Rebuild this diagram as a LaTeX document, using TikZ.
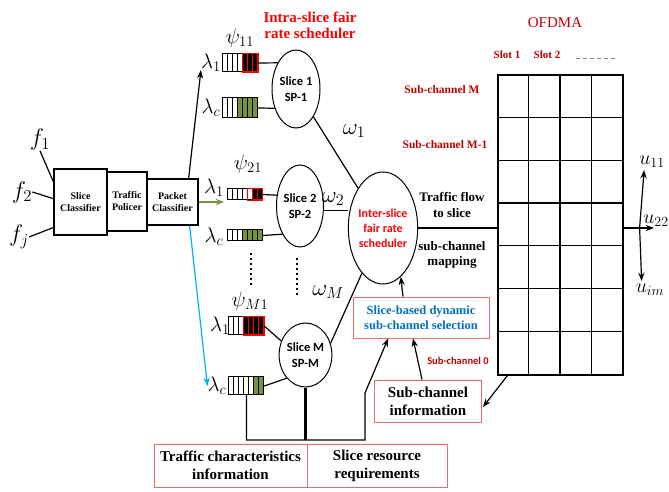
\RequirePackage{fix-cm}
\documentclass[tikz,border=0pt]{standalone}
\usepackage{fontspec}
\setmainfont{Liberation Serif}
\setsansfont{Carlito}
\usetikzlibrary{arrows.meta, positioning, shapes.geometric, calc}
\definecolor{SLRED}{HTML}{FF0000}
\definecolor{SLDARK}{HTML}{C00000}
\definecolor{SLPINK}{HTML}{E07070}
\definecolor{SLBLUE}{HTML}{0070C0}
\definecolor{SLCYAN}{HTML}{00B0F0}
\definecolor{SLGREEN}{HTML}{77933C}

% queue of 7 cells: name, centre, height, white cells, style of the others
\newcommand{\cellqueue}[5]{%
  \node[qbox, minimum height=#3pt] (#1) at (#2) {};
  \foreach \k in {0,...,6}{
    \ifnum\k<#4\relax
      \draw[wcell] ($(#1.north west)+(5*\k,0)$) rectangle ++(5,#3);
    \else
      \draw[#5] ($(#1.north west)+(5*\k,0)$) rectangle ++(5,#3);
    \fi
  }
}

\begin{document}
\begin{tikzpicture}[x=1pt, y=-1pt,
    blk/.style={draw=black, line width=1.2pt, fill=white, inner sep=0pt, align=center,
                font=\bfseries\fontsize{10}{12}\selectfont},
    slicenode/.style={draw, ellipse, line width=1pt, inner sep=0pt, align=center,
                font=\sffamily\bfseries\fontsize{12.5}{16}\selectfont},
    pinkbox/.style={draw=SLPINK, line width=0.9pt, inner sep=0pt, align=center,
                font=\bfseries\fontsize{15}{18}\selectfont},
    lab/.style={inner sep=0pt, font=\fontsize{21}{21}\selectfont},
    wcell/.style={draw=black, line width=0.7pt, fill=white},
    redcell/.style={draw=SLRED, line width=0.7pt, fill=black},
    grncell/.style={draw=black, line width=0.7pt, fill=SLGREEN},
    qbox/.style={inner sep=0pt, minimum width=35pt},
    arr/.style={-{Stealth}, line width=1.2pt},
    ln/.style={line width=1.2pt},
    gridline/.style={line width=1.2pt},
    vdots/.style={line width=2pt, dash pattern=on 2pt off 3pt},
    redlab/.style={text=SLDARK, font=\bfseries\fontsize{11.5}{14}\selectfont}
  ]
  \useasboundingbox (0,0) rectangle (669,492);

  % classifier chain
  \node[blk, minimum width=53pt, minimum height=66pt] (sc) at (80.5,202) {Slice\\Classifier};
  \node[blk, minimum width=40pt, minimum height=59pt] (tp) at (127,201.5) {Traffic\\Policer};
  \node[blk, minimum width=51pt, minimum height=46pt] (pc) at (172.5,202) {Packet\\Classifier};

  \node[lab, font=\fontsize{24}{24}\selectfont] (f1) at (40,140) {$f_1$};
  \node[lab, font=\fontsize{24}{24}\selectfont] (f2) at (22,192) {$f_2$};
  \node[lab, font=\fontsize{24}{24}\selectfont] (fj) at (19,237) {$f_j$};
  \draw[ln] (f1.south) -- ($(sc.north west)!0.2!(sc.south west)$);
  \draw[ln] (f2.east) -- ($(sc.north west)!0.45!(sc.south west)$);
  \draw[ln] (fj.east) -- ($(sc.north west)!0.88!(sc.south west)$);

  % intra-slice schedulers
  \node[text=SLRED, align=center, font=\bfseries\fontsize{15}{16}\selectfont] (intra) at (310,25)
       {Intra-slice fair\\rate scheduler};
  \node[slicenode, minimum width=48pt, minimum height=78pt] (s1) at (296,89) {Slice 1\\SP-1};
  \node[slicenode, minimum width=47pt, minimum height=82pt] (s2) at (300,206) {Slice 2\\SP-2};
  \node[slicenode, minimum width=47pt, minimum height=64pt] (sM) at (305.5,355) {Slice M\\SP-M};

  \cellqueue{q11}{240.5,63}{18}{4}{redcell}
  \draw[draw=SLRED, line width=0.8pt] ($(q11.north west)+(20,0)$) rectangle (q11.south east);
  \cellqueue{q1c}{240.5,108}{20}{3}{grncell}
  \cellqueue{q21}{245,194.5}{11}{5}{redcell}
  \draw[draw=SLRED, line width=0.8pt] ($(q21.north west)+(20,0)$) rectangle (q21.south east);
  \cellqueue{q2c}{245,235.5}{11}{3}{grncell}
  \cellqueue{qM1}{246.5,326}{18}{3}{redcell}
  \draw[draw=SLRED, line width=0.8pt] ($(qM1.north west)+(15,0)$) rectangle (qM1.south east);
  \cellqueue{qMc}{246.5,386}{18}{5}{grncell}

  \node[lab] (lam11) at (211,63) {$\lambda_1$};
  \node[lab] (lam1c) at (211,108) {$\lambda_c$};
  \node[lab] (lam21) at (214,188) {$\lambda_1$};
  \node[lab] (lam2c) at (214,237) {$\lambda_c$};
  \node[lab] (lamM1) at (220,326) {$\lambda_1$};
  \node[lab] (lamMc) at (217,386) {$\lambda_c$};
  \node[lab] (psi11) at (240,38) {$\psi_{11}$};
  \node[lab] (psi21) at (248,164) {$\psi_{21}$};
  \node[lab] (psiM1) at (250,301) {$\psi_{M1}$};

  \draw[ln] (q11.east) -- (s1.125);
  \draw[ln] (q1c.east) -- (s1.222);
  \draw[ln] (q21.east) -- (s2.155);
  \draw[ln] (q2c.east) -- (s2.238);
  \draw[ln] (qM1.east) -- (sM.150);
  \draw[ln] (qMc.east) -- (sM.231);

  \draw[vdots] ($(q2c.south)+(6,12)$) -- ++(0,32);
  \draw[vdots] ($(s2.south)+(-3,10)$) -- ++(0,38);

  % packet classifier outputs
  \draw[arr] ($(pc.north east)+(-10,0)$) -- ($(lam11.south west)+(0,-2)$);
  \draw[arr, SLGREEN] (pc.east) -- (pc.east -| lam21.east);
  \draw[arr, SLCYAN] ($(pc.south east)+(-9,0)$) -- (lamMc.west);

  % inter-slice scheduler
  \node[slicenode, text=SLRED, font=\sffamily\bfseries\fontsize{12}{15}\selectfont,
        minimum width=56pt, minimum height=112pt] (inter) at (383,228)
       {Inter-slice\\fair rate\\scheduler};
  \draw[ln] (s1) -- (inter);
  \draw[ln] (s2.-10) -- (s2.-10 -| inter.west);
  \draw[ln] (sM.25) -- (inter.245);
  \node[lab, font=\fontsize{23}{23}\selectfont] (om1) at (354,131) {$\omega_1$};
  \node[lab, font=\fontsize{23}{23}\selectfont] (om2) at (333,199) {$\omega_2$};
  \node[lab, font=\fontsize{23}{23}\selectfont] (omM) at (328,292) {$\omega_M$};

  % OFDMA grid
  \node[draw, line width=1.2pt, inner sep=0pt, minimum width=125pt, minimum height=300pt] (grid) at (560.5,225) {};
  \foreach \c in {1,2,3}
    \draw[gridline] ($(grid.north west)+(31.25*\c,0)$) -- ($(grid.south west)+(31.25*\c,0)$);
  \foreach \r in {1,...,6}
    \draw[gridline] ($(grid.north west)+(0,{42.857*\r})$) -- ($(grid.north east)+(0,{42.857*\r})$);
  \node[text=SLDARK, font=\fontsize{15}{15}\selectfont] (ofdma) at (555,23) {OFDMA};
  \node[redlab, font=\bfseries\fontsize{11}{13}\selectfont] (slot1) at (507,55) {Slot 1};
  \node[redlab, font=\bfseries\fontsize{11}{13}\selectfont] (slot2) at (547,55) {Slot 2};
  \draw[gray, line width=0.8pt, dash pattern=on 4pt off 3pt] ($(slot2.east)+(12,3)$) -- ++(42,0);
  \node[redlab] (scM) at (442,90) {Sub-channel M};
  \node[redlab] (scM1) at (445,145) {Sub-channel M-1};

  \node[align=center, font=\bfseries\fontsize{13}{15.5}\selectfont] (flow) at (452,205) {Traffic flow\\to slice};
  \node[align=center, font=\bfseries\fontsize{13}{15.5}\selectfont] (map) at (452,255) {sub-channel\\mapping};
  \draw[ln] (inter.east) -- (inter.east -| grid.west);

  % users
  \node[lab, font=\fontsize{20}{20}\selectfont] (u11) at (652,162) {$u_{11}$};
  \node[lab, font=\fontsize{20}{20}\selectfont] (u22) at (656,221) {$u_{22}$};
  \node[lab, font=\fontsize{20}{20}\selectfont] (uim) at (650,290) {$u_{im}$};
  \coordinate (fork) at ($(grid.east |- inter.east)+(16,0)$);
  \draw[arr] (grid.east |- inter.east) -- ($(u22.south |- inter.east)+(-2,0)$);
  \draw[arr] (fork) -- ($(u11.south west)+(5,2)$);
  \draw[arr] (fork) -- ($(uim.north west)+(6,-3)$);

  % channel selection and information
  \node[pinkbox, text=SLBLUE, minimum width=136pt, minimum height=41pt,
        font=\bfseries\fontsize{12.5}{15}\selectfont] (sel) at (421,317.5)
       {Slice-based dynamic\\sub-channel selection};
  \node[pinkbox, minimum width=107pt, minimum height=42pt] (info) at (428,401) {Sub-channel\\information};
  \node[text=SLDARK, font=\sffamily\bfseries\fontsize{10.5}{12}\selectfont] (sch0) at (458,361) {Sub-channel 0};
  \draw[arr] ($(sel.north)+(-18,0)$) -- (inter.-70);
  \draw[arr] ($(info.north)+(-6,0)$) -- ($(sel.south)+(-8,0)$);
  \draw[arr] ($(grid.south west)+(10,0)$) -- ($(info.east)+(1,6)$);

  % requirement boxes
  \node[pinkbox, minimum width=153pt, minimum height=43pt] (tci) at (230.5,465.5) {Traffic characteristics\\information};
  \node[pinkbox, minimum width=140pt, minimum height=43pt] (srr) at (377,465.5) {Slice resource\\requirements};
  \coordinate (busR) at (365,440);
  \coordinate (kink) at (365,393);
  \draw[arr] (qMc.south) |- (busR) -- (kink) -- ($(sel.south west)!0.26!(sel.south east)$);
  \draw[ln, line width=2.2pt] (sM.south) -- (sM.south |- busR);
\end{tikzpicture}
\end{document}
